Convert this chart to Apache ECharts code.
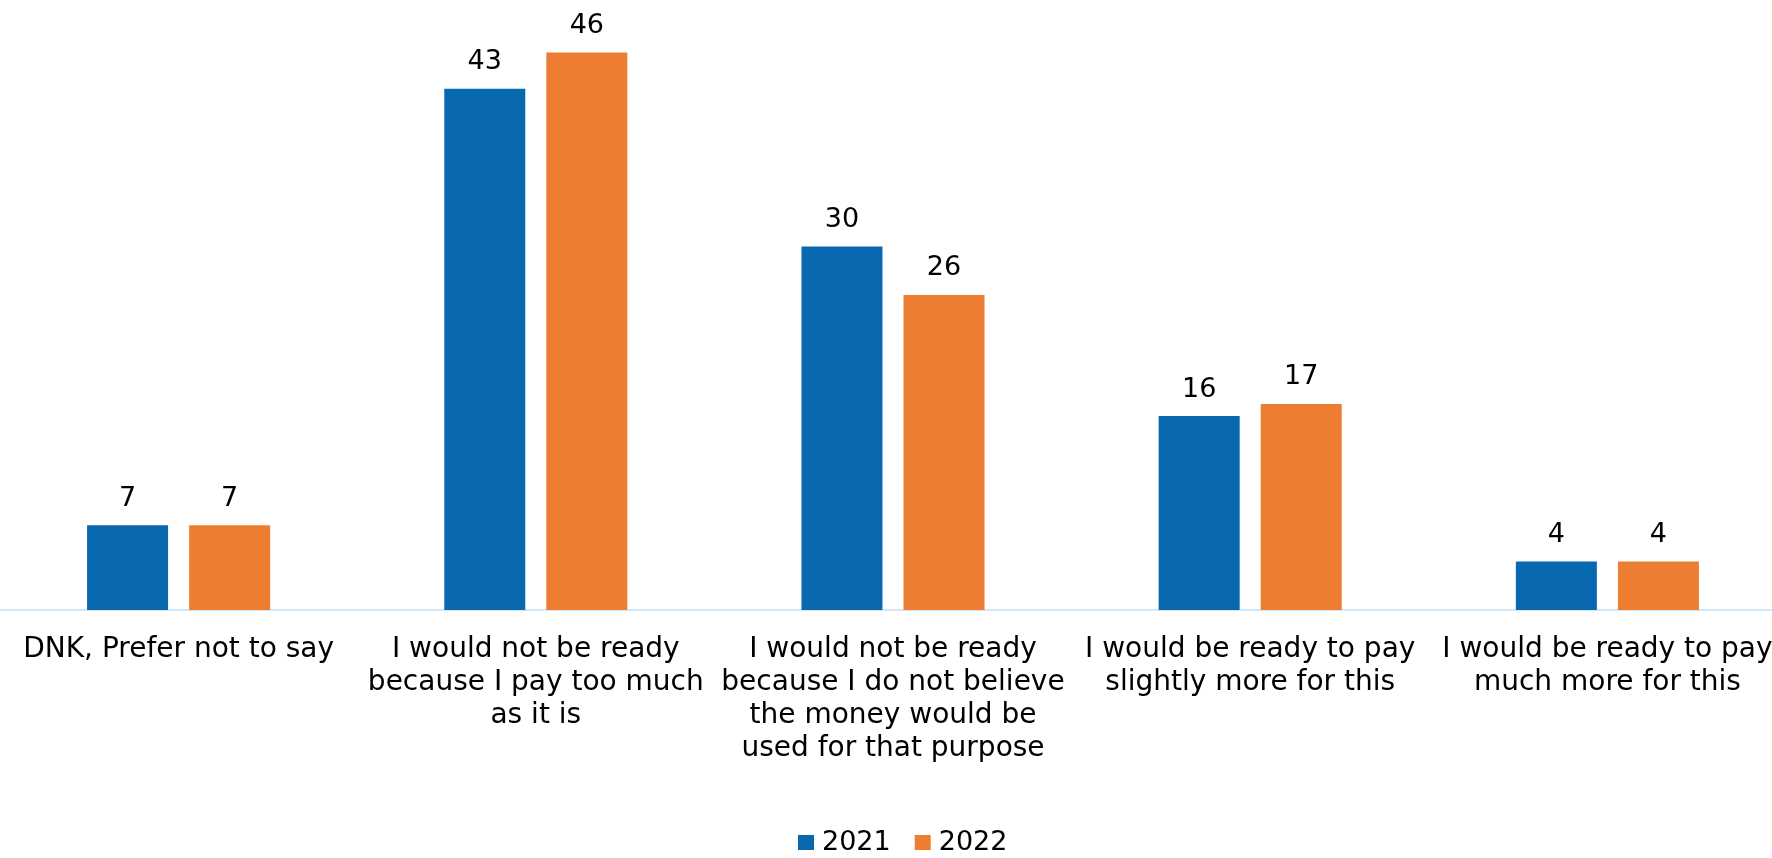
<!DOCTYPE html>
<html>
<head>
<meta charset="utf-8">
<script src="https://cdn.jsdelivr.net/npm/echarts@6/dist/echarts.min.js"></script>
<style>
  html, body { margin: 0; padding: 0; background: #ffffff; overflow: hidden; }
  /* plot runs slightly past the right edge of the window */
  #chart { width: 1786px; height: 858px; }
</style>
</head>
<body>
<div id="chart"></div>
<script>
// Answer options (axis labels, with line breaks as displayed)
const categories = [
  'DNK, Prefer not to say',
  'I would not be ready\nbecause I pay too much\nas it is',
  'I would not be ready\nbecause I do not believe\nthe money would be\nused for that purpose',
  'I would be ready to pay\nslightly more for this',
  'I would be ready to pay\nmuch more for this'
];

// Share of respondents (%) per year
const values2021 = [7, 43, 30, 16, 4];
const values2022 = [7, 46, 26, 17, 4];

const seriesNames = ['2021', '2022'];
const colors = ['#0868b0', '#ed7d31'];

const FONT = '"DejaVu Sans", "Liberation Sans", Arial, sans-serif';

const chart = echarts.init(document.getElementById('chart'), null, { renderer: 'canvas' });

const valueLabel = {
  show: true,
  position: 'top',
  distance: 13,
  color: '#000000',
  fontFamily: FONT,
  fontSize: 27
};

chart.setOption({
  animation: false,
  backgroundColor: '#ffffff',
  color: colors,
  grid: {
    left: 0,
    right: 0,
    top: 4,
    bottom: 248,
    containLabel: false
  },
  legend: {
    data: seriesNames,
    top: 824,
    left: 793,
    itemWidth: 16,
    itemHeight: 15,
    itemGap: 24,
    icon: 'rect',
    textStyle: { color: '#000000', fontFamily: FONT, fontSize: 27, padding: [0, 0, 0, 3] }
  },
  xAxis: {
    type: 'category',
    data: categories,
    axisLine: { show: true, lineStyle: { color: '#d5e6f6', width: 2 } },
    axisTick: { show: false },
    axisLabel: {
      interval: 0,
      margin: 23,
      color: '#000000',
      fontFamily: FONT,
      fontSize: 28,
      lineHeight: 33,
      align: 'center'
    }
  },
  yAxis: {
    type: 'value',
    min: 0,
    max: 50,
    show: false,
    splitLine: { show: false }
  },
  series: [
    {
      name: seriesNames[0],
      type: 'bar',
      data: values2021,
      barWidth: 81,
      barGap: '26%',
      itemStyle: { color: colors[0] },
      label: valueLabel
    },
    {
      name: seriesNames[1],
      type: 'bar',
      data: values2022,
      barWidth: 81,
      barGap: '26%',
      itemStyle: { color: colors[1] },
      label: valueLabel
    }
  ]
});
</script>
</body>
</html>
